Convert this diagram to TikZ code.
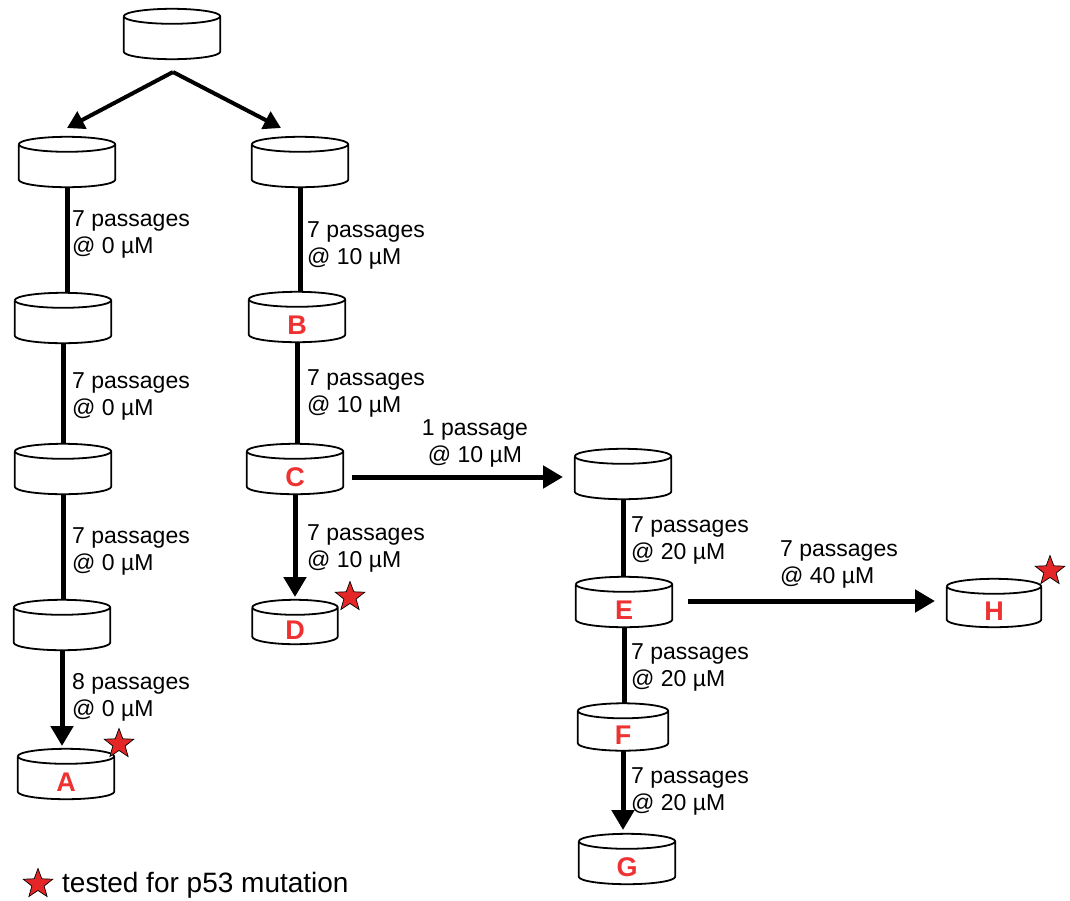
\documentclass[tikz,border=0pt]{standalone}
\usepackage{fontspec}
\setmainfont{Liberation Sans}
\usetikzlibrary{shapes.geometric,arrows.meta,calc}
\definecolor{lblred}{RGB}{238,50,50}
\definecolor{starred}{RGB}{228,38,38}
\begin{document}
\begin{tikzpicture}[x=1pt,y=-1pt,
  cylbox/.style={minimum width=96pt,minimum height=50pt,inner sep=0pt,
    text height=35pt,text depth=0pt,
    text=lblred,font=\fontsize{27}{27}\selectfont\bfseries},
  cylline/.style={line width=1.8pt,black},
  conn/.style={line width=5pt,black},
  arr/.style={conn,-{Triangle[length=20pt,width=22pt]}},
  toparr/.style={line width=4pt,black,-{Triangle[length=17pt,width=19pt]}},
  lbl/.style={font=\fontsize{23}{27}\selectfont,align=left,anchor=west,inner sep=0pt},
  pstar/.style={star,star points=5,star point ratio=2.4,fill=starred,draw=black,
    line width=0.7pt,minimum size=31pt,inner sep=0pt}]
\useasboundingbox (0,0) rectangle (1070,900);
\fill[white] (0,0) rectangle (1070,900);

% cylinders
\node[cylbox] (T)  at (172,34) {};
\node[cylbox] (L1) at (67,162) {};
\node[cylbox] (R1) at (300,162) {};
\node[cylbox] (L2) at (63,318) {};
\node[cylbox] (L3) at (63,469) {};
\node[cylbox] (L4) at (62,625) {};
\node[cylbox] (A)  at (66,774) {A};
\node[cylbox] (B)  at (297,317) {B};
\node[cylbox] (C)  at (295,469) {C};
\node[cylbox,minimum width=85pt,minimum height=44pt] (D) at (295,622) {D};
\node[cylbox] (M)  at (623,474) {};
\node[cylbox] (E)  at (624,602) {E};
\node[cylbox,minimum width=90pt,minimum height=47pt] (F) at (623,727) {F};
\node[cylbox] (G)  at (627,859) {G};
\node[cylbox,minimum width=94pt,minimum height=48pt] (H)  at (994,603) {H};

\foreach \c in {T,L1,R1,L2,L3,L4,A,B,C,D,M,E,F,G,H}{
  \draw[cylline] let \p1=(\c.north west), \p2=(\c.south east), \n1={(\x2-\x1)/2} in
    (\x1,\y1-7.5pt) -- (\x1,\y2+7.5pt)
      arc[start angle=180,end angle=360,x radius=\n1,y radius=7.5pt]
      -- (\x2,\y1-7.5pt)
      arc[start angle=0,end angle=180,x radius=\n1,y radius=7.5pt]
    (\x1,\y1-7.5pt) arc[start angle=180,end angle=360,x radius=\n1,y radius=7.5pt];
}

% top split
\coordinate (apex) at (173,72);
\coordinate (L1t) at (67,128);
\coordinate (R1t) at (281,128);
\draw[toparr] (apex) -- (L1t);
\draw[toparr] (apex) -- (R1t);

% left column
\draw[conn] (L1.south) -- (L1.south |- L2.north);
\draw[conn] (L2.south) -- (L2.south |- L3.north);
\draw[conn] (L3.south) -- (L3.south |- L4.north);
\coordinate (Atip) at (L4.south |- 0,746);
\draw[arr] (L4.south) -- (Atip);

% right column
\draw[conn] (R1.south) -- (R1.south |- B.north);
\draw[conn] (B.south) -- (B.south |- C.north);
\coordinate (Dtip) at (C.south |- 0,597);
\draw[arr] (C.south) -- (Dtip);

% C to M
\coordinate (Cout) at (352,477);
\coordinate (Min) at (563,477);
\draw[arr] (Cout) -- (Min);

% third column
\draw[conn] (M.south) -- (M.south |- E.north);
\draw[conn] (E.south) -- (E.south |- F.north);
\coordinate (Gtip) at (F.south |- 0,830);
\draw[arr] (F.south) -- (Gtip);

% E to H
\coordinate (Eout) at (688,601);
\coordinate (Hin) at (935,601);
\draw[arr] (Eout) -- (Hin);

% labels
\node[lbl] (l1) at (72,234) {7 passages\\@ 0 µM};
\node[lbl] (l2) at (72,396) {7 passages\\@ 0 µM};
\node[lbl] (l3) at (72,551) {7 passages\\@ 0 µM};
\node[lbl] (l4) at (72,697) {8 passages\\@ 0 µM};
\node[lbl] (r1) at (307,245) {7 passages\\@ 10 µM};
\node[lbl] (r2) at (307,393) {7 passages\\@ 10 µM};
\node[lbl] (r3) at (307,548) {7 passages\\@ 10 µM};
\node[lbl,anchor=center,align=center] (c1) at (475,443) {1 passage\\@ 10 µM};
\node[lbl] (m1) at (631,540) {7 passages\\@ 20 µM};
\node[lbl] (m2) at (631,667) {7 passages\\@ 20 µM};
\node[lbl] (m3) at (631,791) {7 passages\\@ 20 µM};
\node[lbl] (h1) at (780,564) {7 passages\\@ 40 µM};

% stars
\node[pstar] (sA) at (119,744) {};
\node[pstar] (sD) at (350,597) {};
\node[pstar] (sH) at (1050,571) {};
\node[pstar] (sL) at (38,884) {};
\node[font=\fontsize{28}{28}\selectfont,anchor=west,inner sep=0pt] (leg) at (62,885) {tested for p53 mutation};
\end{tikzpicture}
\end{document}
